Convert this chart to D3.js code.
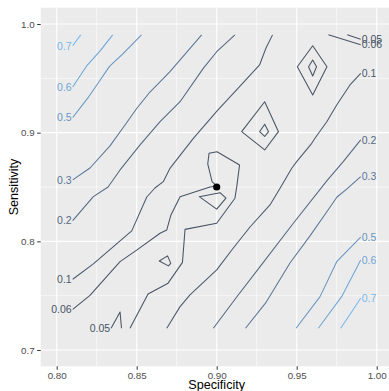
<!DOCTYPE html>
<html>
<head>
<meta charset="utf-8">
<script src="https://cdn.jsdelivr.net/npm/d3@7"></script>
<style>
  body { margin: 0; background: #fff; }
  text { font-family: "Liberation Sans", Arial, Helvetica, sans-serif; }
</style>
</head>
<body>
<svg id="chart" width="389" height="391"></svg>
<script>
// Contour levels and axis ticks
const levels = [0.05, 0.06, 0.1, 0.2, 0.3, 0.5, 0.6, 0.7];
const xTicks = [0.80, 0.85, 0.90, 0.95, 1.00];
const yTicks = [0.7, 0.8, 0.9, 1.0];
const xMinor = [0.825, 0.875, 0.925, 0.975];
const yMinor = [0.75, 0.85, 0.95];

// Contour pieces as [specificity, sensitivity] vertices
const c070L = [[0.81,0.980],[0.815,0.99]];
const c060L = [[0.81,0.942],[0.819,0.962],[0.827,0.975],[0.835,0.99]];
const c050L = [[0.81,0.914],[0.82,0.933],[0.827,0.948],[0.833,0.961],[0.841,0.972],[0.853,0.99]];
const c030L = [[0.81,0.8565],[0.8208,0.8675],[0.8333,0.8878],[0.8427,0.9071],[0.8502,0.9227],
               [0.8583,0.9374],[0.8708,0.9561],[0.8906,0.99]];
const c020L = [[0.81,0.819],[0.8229,0.8411],[0.8321,0.85],[0.8396,0.8657],[0.8521,0.8887],
               [0.8646,0.9101],[0.8771,0.9285],[0.8916,0.9592],[0.90,0.9745],[0.9114,0.99]];
const c010L = [[0.81,0.7651],[0.8229,0.7792],[0.8396,0.8004],[0.8469,0.8096],[0.8563,0.8408],
               [0.8614,0.8491],[0.8666,0.8549],[0.8708,0.8672],[0.8854,0.8948],[0.9008,0.9209],
               [0.9133,0.9407],[0.9268,0.9623],[0.9308,0.9779],[0.9349,0.99]];
const c006L = [[0.81,0.7374],[0.8208,0.7502],[0.8396,0.7813],[0.8502,0.7921],[0.8646,0.8074],
               [0.8688,0.8105],[0.8714,0.8243],[0.8771,0.8411],[0.8958,0.85],[0.90,0.851],
               [0.8971,0.8549],[0.8944,0.8712],[0.8952,0.881],[0.9002,0.8825],[0.9143,0.8703],
               [0.9126,0.851],[0.9114,0.8397],[0.90,0.8167],[0.8802,0.811],[0.8786,0.7806],
               [0.8696,0.7615],[0.8571,0.7516],[0.8458,0.72]];
const c005L = [[0.834,0.72],[0.8396,0.735],[0.8405,0.72]];
const c005R = [[0.9816,0.99],[0.99,0.986]];
const c006R = [[0.9698,0.99],[0.99,0.981]];
const c010R = [[0.8688,0.72],[0.877,0.7397],[0.8833,0.7507],[0.90,0.7737],[0.9104,0.7939],
               [0.9208,0.8132],[0.9333,0.8335],[0.9396,0.8488],[0.9469,0.8673],[0.95,0.8733],
               [0.9594,0.8902],[0.9614,0.8948],[0.9688,0.9101],[0.975,0.9255],[0.9833,0.9439],
               [0.99,0.9546]];
const c020R = [[0.8979,0.72],[0.9125,0.7488],[0.9271,0.7767],[0.9479,0.8166],[0.9688,0.8556],
               [0.9791,0.8733],[0.99,0.8933]];
const c030R = [[0.918,0.72],[0.9306,0.7433],[0.9458,0.7801],[0.9583,0.805],[0.9683,0.8261],
               [0.9752,0.8408],[0.9814,0.8482],[0.99,0.8595]];
const c050R = [[0.9496,0.72],[0.9646,0.7491],[0.975,0.7813],[0.99,0.8038]];
const c060R = [[0.9635,0.72],[0.9781,0.7491],[0.99,0.7829]];
const c070R = [[0.9775,0.72],[0.99,0.7477]];

// Closed contour rings
const ringA06 = [[0.93,0.9285],[0.9386,0.9009],[0.93,0.8841],[0.9156,0.9009]];
const ringA05 = [[0.93,0.9077],[0.9324,0.9009],[0.93,0.8965],[0.9268,0.9009]];
const ringB06 = [[0.96,0.98],[0.9689,0.9607],[0.96,0.9347],[0.9504,0.9607]];
const ringB05 = [[0.96,0.9669],[0.9624,0.9607],[0.96,0.9522],[0.9574,0.9607]];
const ringC05 = [[0.8641,0.7819],[0.8693,0.7866],[0.8713,0.7797],[0.8698,0.7774]];
const ringD05 = [[0.8891,0.8411],[0.9021,0.8448],[0.9058,0.8397],[0.90,0.8296]];

// Optimal operating point
const optimum = [[0.90, 0.85]];

// Open pieces with the end that carries the level label
const openPieces = [
  { level: 0.7,  pts: c070L, label: "start" },
  { level: 0.6,  pts: c060L, label: "start" },
  { level: 0.5,  pts: c050L, label: "start" },
  { level: 0.3,  pts: c030L, label: "start" },
  { level: 0.2,  pts: c020L, label: "start" },
  { level: 0.1,  pts: c010L, label: "start" },
  { level: 0.06, pts: c006L, label: "start" },
  { level: 0.05, pts: c005L, label: "start" },
  { level: 0.05, pts: c005R, label: "end" },
  { level: 0.06, pts: c006R, label: "end" },
  { level: 0.1,  pts: c010R, label: "end" },
  { level: 0.2,  pts: c020R, label: "end" },
  { level: 0.3,  pts: c030R, label: "end" },
  { level: 0.5,  pts: c050R, label: "end" },
  { level: 0.6,  pts: c060R, label: "end" },
  { level: 0.7,  pts: c070R, label: "end" }
];
const rings = [
  { level: 0.06, pts: ringA06 }, { level: 0.05, pts: ringA05 },
  { level: 0.06, pts: ringB06 }, { level: 0.05, pts: ringB05 },
  { level: 0.05, pts: ringC05 }, { level: 0.05, pts: ringD05 }
];

const svg = d3.select("#chart");
const panel = { left: 40.7, right: 392.7, top: 7.7, bottom: 366.3 };

const x = d3.scaleLinear().domain([0.79, 1.01]).range([panel.left, panel.right]);
const y = d3.scaleLinear().domain([0.685, 1.015]).range([panel.bottom, panel.top]);
const colour = d3.scaleLinear()
  .domain([d3.min(levels), d3.max(levels)])
  .range(["#475364", "#76b6ee"])
  .interpolate(d3.interpolateLab);

// panel background and grid
svg.append("rect")
  .attr("x", panel.left).attr("y", panel.top)
  .attr("width", panel.right - panel.left).attr("height", panel.bottom - panel.top)
  .attr("fill", "#EBEBEB");

const grid = svg.append("g");
grid.selectAll(".vmin").data(xMinor).join("line")
  .attr("x1", d => x(d)).attr("x2", d => x(d))
  .attr("y1", panel.top).attr("y2", panel.bottom)
  .attr("stroke", "#fff").attr("stroke-width", 0.55);
grid.selectAll(".hmin").data(yMinor).join("line")
  .attr("y1", d => y(d)).attr("y2", d => y(d))
  .attr("x1", panel.left).attr("x2", panel.right)
  .attr("stroke", "#fff").attr("stroke-width", 0.55);
grid.selectAll(".vmaj").data(xTicks).join("line")
  .attr("x1", d => x(d)).attr("x2", d => x(d))
  .attr("y1", panel.top).attr("y2", panel.bottom)
  .attr("stroke", "#fff").attr("stroke-width", 1.1);
grid.selectAll(".hmaj").data(yTicks).join("line")
  .attr("y1", d => y(d)).attr("y2", d => y(d))
  .attr("x1", panel.left).attr("x2", panel.right)
  .attr("stroke", "#fff").attr("stroke-width", 1.1);

// contour lines
const line = d3.line().x(d => x(d[0])).y(d => y(d[1]));
const ring = d3.line().x(d => x(d[0])).y(d => y(d[1])).curve(d3.curveLinearClosed);

const contours = svg.append("g").attr("fill", "none")
  .attr("stroke-width", 1.05).attr("stroke-linejoin", "round");
contours.selectAll("path.open").data(openPieces).join("path")
  .attr("class", "open")
  .attr("d", d => line(d.pts))
  .attr("stroke", d => colour(d.level));
contours.selectAll("path.ring").data(rings).join("path")
  .attr("class", "ring")
  .attr("d", d => ring(d.pts))
  .attr("stroke", d => colour(d.level));

// level labels
svg.append("g").selectAll("text").data(openPieces).join("text")
  .attr("x", d => {
    const p = d.label === "start" ? d.pts[0] : d.pts[d.pts.length - 1];
    return x(p[0]) + (d.label === "start" ? -1 : 1);
  })
  .attr("y", d => y((d.label === "start" ? d.pts[0] : d.pts[d.pts.length - 1])[1]))
  .attr("dy", "0.36em")
  .attr("text-anchor", d => d.label === "start" ? "end" : "start")
  .attr("font-size", 10.5)
  .attr("fill", d => colour(d.level))
  .text(d => String(d.level));

// optimum point
svg.append("g").selectAll("circle").data(optimum).join("circle")
  .attr("cx", d => x(d[0])).attr("cy", d => y(d[1]))
  .attr("r", 3.6).attr("fill", "#000");

// axes
const xAxis = svg.append("g")
  .attr("transform", `translate(0,${panel.bottom})`)
  .call(d3.axisBottom(x).tickValues(xTicks).tickFormat(d3.format(".2f")).tickSize(3.5).tickPadding(1.8));
const yAxis = svg.append("g")
  .attr("transform", `translate(${panel.left},0)`)
  .call(d3.axisLeft(y).tickValues(yTicks).tickFormat(d3.format(".1f")).tickSize(3.5).tickPadding(2.5));
[xAxis, yAxis].forEach(a => {
  a.select(".domain").remove();
  a.selectAll(".tick line").attr("stroke", "#333").attr("stroke-width", 1);
  a.selectAll(".tick text").attr("fill", "#4D4D4D").attr("font-size", 9.8)
    .attr("font-family", "'Liberation Sans', Arial, sans-serif");
});

// axis titles
svg.append("text")
  .attr("x", (panel.left + panel.right) / 2).attr("y", 389)
  .attr("text-anchor", "middle").attr("font-size", 12.6).attr("fill", "#000")
  .text("Specificity");
svg.append("text")
  .attr("transform", `translate(17.5,${(panel.top + panel.bottom) / 2}) rotate(-90)`)
  .attr("text-anchor", "middle").attr("font-size", 12.6).attr("fill", "#000")
  .text("Sensitivity");
</script>
</body>
</html>
